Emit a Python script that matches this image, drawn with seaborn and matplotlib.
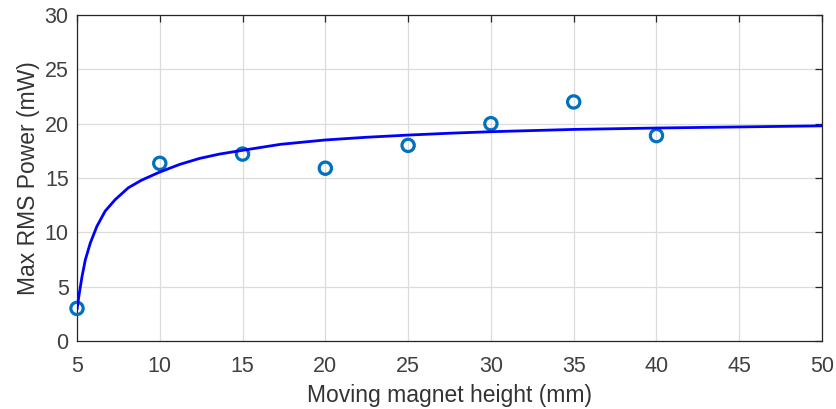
import matplotlib
matplotlib.use("Agg")
import matplotlib.pyplot as plt
import seaborn as sns

# ---------------------- Data ---------------------- #

# measured points
magnet_height = [5, 10, 15, 20, 25, 30, 35, 40]
max_rms_power = [3.0, 16.35, 17.2, 15.9, 18.0, 20.0, 22.0, 18.9]

# fitted curve
fit_height = [5.0, 5.14, 5.3, 5.5, 5.8, 6.2, 6.7, 7.3, 8.1, 8.9, 10, 11.2, 12.4,
              13.6, 15, 17.3, 20, 22.5, 25, 27.5, 30, 35, 40, 45, 50]
fit_power = [2.9, 4.4, 5.9, 7.45, 9.0, 10.55, 11.95, 13.0, 14.1, 14.8, 15.55,
             16.25, 16.8, 17.2, 17.55, 18.1, 18.5, 18.75, 18.95, 19.12,
             19.26, 19.47, 19.6, 19.7, 19.8]

x_ticks = [5, 10, 15, 20, 25, 30, 35, 40, 45, 50]
y_ticks = [0, 5, 10, 15, 20, 25, 30]

# ---------------------- Plot ---------------------- #

sns.set_style("whitegrid")
plt.rcParams['font.family'] = ['Liberation Sans', 'DejaVu Sans']

fig = plt.figure(figsize=(8.36, 4.09), dpi=100)
ax = fig.add_axes([0.0921, 0.1663, 0.8912, 0.797])

sns.scatterplot(x=magnet_height, y=max_rms_power, ax=ax, marker='o', s=78,
                facecolors='none', edgecolor='#0072BD', linewidth=2.3,
                zorder=3, clip_on=False)
sns.lineplot(x=fit_height, y=fit_power, ax=ax, color='#0000FF', linewidth=2.0,
             zorder=4, sort=False)

ax.set_xlim(5, 50)
ax.set_ylim(0, 30)
ax.set_xticks(x_ticks)
ax.set_yticks(y_ticks)

ax.grid(True, color='#dcdcdc', linewidth=0.9)
for side in ['left', 'right', 'top', 'bottom']:
    ax.spines[side].set_visible(True)
    ax.spines[side].set_color('#262626')
    ax.spines[side].set_linewidth(0.9)
ax.tick_params(direction='in', length=5, width=0.9, color='#262626',
               top=True, right=True, labelsize=15.5, labelcolor='#404040')
ax.tick_params(axis='x', pad=11)
ax.tick_params(axis='y', pad=6)

ax.set_xlabel('Moving magnet height (mm)', fontsize=16.5, color='#333333', labelpad=5)
ax.set_ylabel('Max RMS Power (mW)', fontsize=16.5, color='#333333', labelpad=3)

fig.savefig('out.png', dpi=100)
